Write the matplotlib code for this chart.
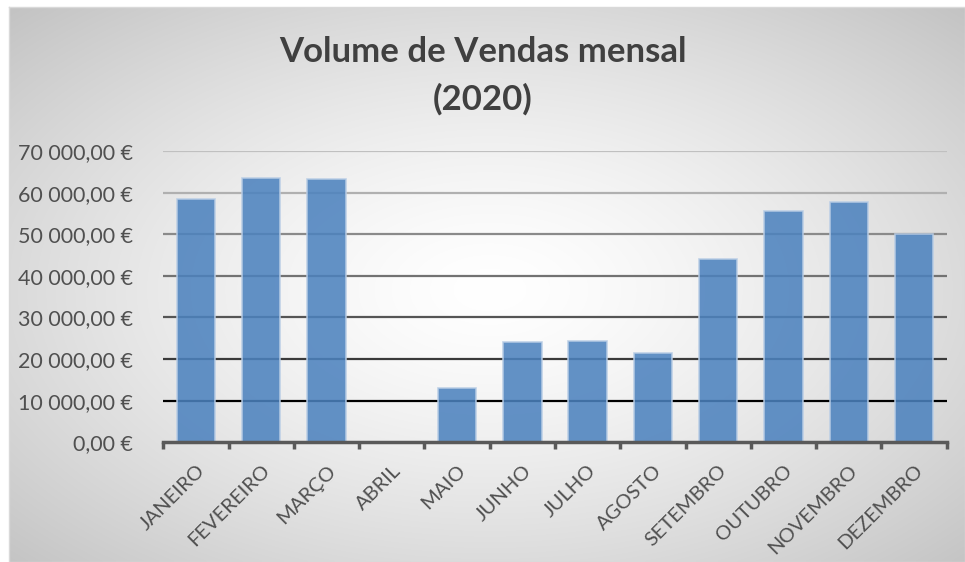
import numpy as np
import matplotlib
matplotlib.use("Agg")
import matplotlib.pyplot as plt
from matplotlib.ticker import FuncFormatter

# Monthly sales volume, 2020
meses = ["JANEIRO", "FEVEREIRO", "MARÇO", "ABRIL", "MAIO", "JUNHO",
         "JULHO", "AGOSTO", "SETEMBRO", "OUTUBRO", "NOVEMBRO", "DEZEMBRO"]
vendas = [58400, 63400, 63300, 0, 13000, 24200,
          24400, 21400, 44000, 55500, 57800, 50100]
y_ticks = [0, 10000, 20000, 30000, 40000, 50000, 60000, 70000]
grid_colors = ["#000000", "#000000", "#3a3a3a", "#555555",
               "#727272", "#8a8a8a", "#b0b0b0", "#c0c0c0"]

plt.rcParams["font.family"] = ["Lato", "DejaVu Sans"]

W, H = 965, 562
fig = plt.figure(figsize=(W / 100, H / 100), dpi=100)

# background: radial grey gradient inside the chart box
bg = fig.add_axes([0, 0, 1, 1])
bg.axis("off")
x0, x1, y0, y1 = 9, 965, 7, 562
xx, yy = np.meshgrid(np.linspace(x0, x1, 300), np.linspace(y0, y1, 200))
dx = (xx - 490) / (W / 2)
dy = (yy - 290) / (H / 2)
d2 = (dx ** 2 + dy ** 2) / 2
shade = 255 - 60 * np.clip(d2, 0, 1) ** 0.7
img = np.dstack([shade, shade, shade]) / 255
bg.imshow(img, extent=(x0, x1, y1, y0), aspect="auto", interpolation="bilinear")
bg.plot([x0, x1, x1, x0, x0], [y0, y0, y1, y1, y0], color="#d9d9d9", lw=1)
bg.set_xlim(0, W)
bg.set_ylim(H, 0)

ax = fig.add_axes([163.3 / W, 1 - 442.3 / H, 783.4 / W, (442.3 - 151) / H])
ax.set_facecolor("none")
x = np.arange(len(meses))
ax.bar(x, vendas, width=0.59, color="#4c82be", alpha=0.87,
       edgecolor="#b9cde5", linewidth=1.2, zorder=3)

ax.set_xlim(-0.5, len(meses) - 0.5)
ax.set_ylim(0, 70000)
ax.set_yticks(y_ticks)
ax.yaxis.set_major_formatter(FuncFormatter(
    lambda v, p: f"{v:,.2f} €".replace(",", " ").replace(".", ",")))
ax.tick_params(axis="y", length=0, pad=22, labelsize=15.5, labelcolor="#505050")

for yv, c in zip(y_ticks[1:], grid_colors[1:]):
    ax.axhline(yv, color=c, lw=1.6, zorder=1)

ax.set_xticks(x)
ax.set_xticklabels(meses, rotation=45, ha="right", va="top",
                   rotation_mode="anchor", fontsize=14.5, color="#505050")
ax.tick_params(axis="x", length=0, pad=14)
ax.set_xticks(np.arange(-0.5, len(meses)), minor=True)
ax.tick_params(axis="x", which="minor", length=5, width=2.5,
               color="#595959", direction="out")

for s in ["top", "right", "left"]:
    ax.spines[s].set_visible(False)
ax.spines["bottom"].set_color("#595959")
ax.spines["bottom"].set_linewidth(2.5)
ax.spines["bottom"].set_zorder(4)

fig.text(0.5, 1 - 62 / H, "Volume de Vendas mensal", ha="center", va="baseline",
         fontsize=25, fontweight="bold", color="#404040")
fig.text(0.5, 1 - 110 / H, "(2020)", ha="center", va="baseline",
         fontsize=25, fontweight="bold", color="#404040")

fig.savefig("out.png", dpi=100)
